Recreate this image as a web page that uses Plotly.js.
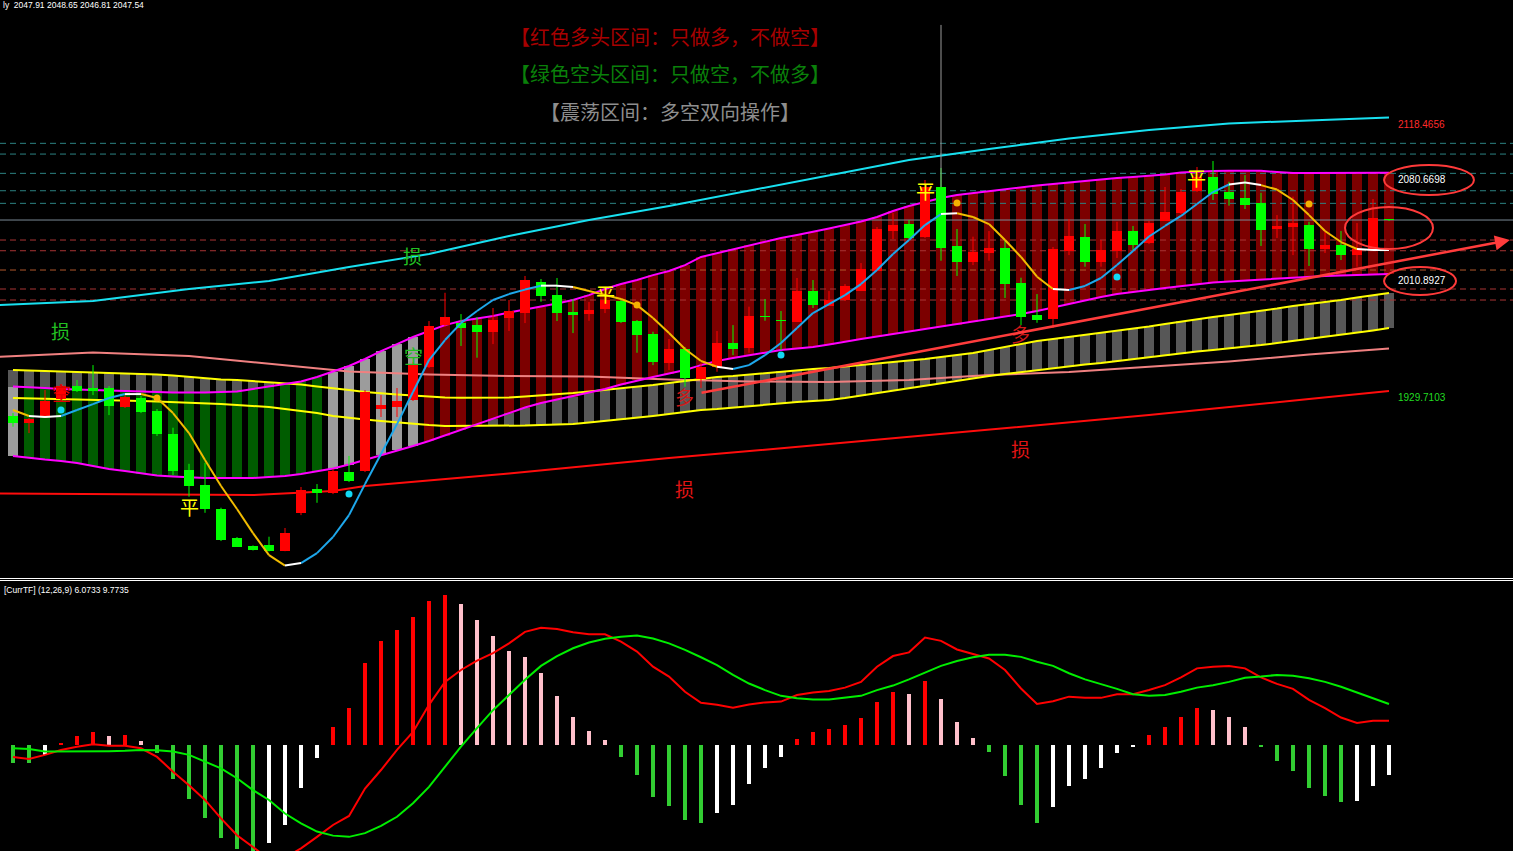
<!DOCTYPE html>
<html><head><meta charset="utf-8">
<script src="https://cdn.plot.ly/plotly-3.0.1.min.js"></script>
<style>html,body{margin:0;padding:0;background:#000;overflow:hidden}#chart{width:1513px;height:851px}</style>
</head><body><div id="chart"></div>
<script>
// ---------- price candles ----------
const OPEN=[1917.5,1912.4,1916.4,1929.0,1938.0,1936.8,1936.8,1923.5,1929.9,1920.7,
1904.8,1880.0,1869.6,1853.1,1833.3,1827.8,1828.2,1824.3,1850.3,1866.9,
1864.1,1878.8,1879.3,1921.9,1923.7,1928.3,1951.3,1980.0,1981.4,1980.0,
1975.4,1985.1,1988.5,2009.7,2000.7,1989.0,1987.8,1991.1,1996.6,1982.8,
1973.8,1954.0,1963.5,1942.8,1951.3,1967.8,1964.4,1986.1,1983.2,1982.3,
2003.5,1993.4,1997.3,2003.7,2017.5,2044.9,2049.7,2041.0,2075.5,2034.6,
2023.7,2029.9,2033.4,2009.0,1986.9,1984.2,2031.1,2040.8,2023.7,2031.1,
2044.9,2036.6,2052.0,2057.1,2072.7,2082.2,2072.0,2067.7,2064.2,2046.3,
2047.5,2049.0,2032.5,2035.2,2028.3,2031.8,2052.8];
const HIGH=[1919.3,1915.9,1935.2,1939.3,1942.1,1952.4,1938.0,1931.7,1931.1,1922.1,
1909.2,1884.3,1885.0,1854.0,1833.8,1828.0,1834.0,1840.0,1868.3,1870.3,
1880.7,1889.7,1935.2,1931.7,1936.6,1954.5,1982.8,2002.3,1987.6,1985.6,
1991.8,1997.3,2013.9,2011.8,2012.5,1998.0,1995.9,2000.1,1998.0,1983.5,
1975.4,1970.4,1964.9,1953.8,1975.9,1980.0,1992.7,1998.0,1989.7,2012.5,
2011.1,2003.5,2008.3,2022.8,2047.7,2057.3,2052.5,2080.1,2088.4,2046.3,
2041.0,2044.9,2038.7,2012.7,2001.4,2033.9,2053.2,2049.7,2038.7,2051.3,
2048.4,2051.8,2075.3,2073.9,2089.1,2093.2,2078.9,2083.5,2071.3,2055.9,
2068.6,2051.3,2045.6,2044.9,2050.4,2067.0,2053.2];
const LOW=[1909.9,1905.5,1915.9,1927.6,1933.8,1931.7,1917.9,1922.8,1919.3,1903.5,
1876.5,1861.6,1850.5,1831.0,1826.9,1824.5,1823.8,1824.0,1848.9,1857.4,
1863.4,1871.7,1878.6,1916.6,1916.6,1927.6,1950.4,1978.7,1965.6,1957.5,
1966.9,1975.9,1981.4,1996.1,1982.8,1974.5,1983.0,1988.3,1981.4,1960.9,
1952.4,1949.0,1937.5,1936.6,1947.8,1959.3,1960.9,1983.0,1962.8,1982.1,
1991.8,1993.2,1996.6,2003.5,2017.3,2039.4,2039.4,2040.1,2024.4,2013.9,
2021.4,2024.4,1998.7,1980.0,1981.6,1978.0,2028.3,2020.3,2020.3,2026.3,
2031.8,2035.9,2051.8,2056.6,2071.8,2066.3,2062.4,2060.1,2034.6,2040.1,
2028.3,2020.8,2029.7,2024.9,2020.3,2031.1,2051.8];
const CLOSE=[1912.6,1915.2,1927.8,1938.0,1934.5,1934.7,1924.2,1930.6,1920.0,1904.8,
1879.3,1869.0,1853.1,1831.7,1827.1,1824.8,1824.1,1836.5,1866.2,1864.3,
1879.3,1872.6,1933.8,1924.8,1927.6,1952.4,1979.4,1985.6,1978.0,1975.4,
1983.5,1989.9,2011.1,2000.1,1988.5,1986.9,1990.4,1997.3,1982.3,1973.1,
1954.7,1963.5,1943.5,1951.1,1967.8,1963.5,1986.5,1985.4,1982.5,2003.5,
1993.8,1997.3,2007.0,2018.7,2046.3,2049.0,2040.3,2075.5,2033.4,2023.7,
2030.6,2033.4,2008.3,1985.8,1983.5,2032.5,2041.5,2023.7,2031.8,2044.9,
2035.2,2050.4,2058.2,2072.0,2082.4,2070.4,2067.0,2062.8,2045.6,2048.4,
2050.6,2032.5,2035.2,2028.3,2032.5,2054.1,2052.2];

// ---------- moving average (tri-colour line) ----------
const MA=[1921.4,1917.3,1916.6,1917.3,1921.4,1925.5,1929.7,1932.4,1932.4,1929.7,
1919.3,1905.5,1886.9,1869.0,1853.1,1836.5,1821.3,1814.1,1815.8,1822.7,
1833.8,1848.9,1870.3,1891.0,1911.7,1933.8,1955.9,1969.7,1981.4,1989.7,
1997.3,2001.4,2004.5,2007.2,2007.2,2006.3,2003.5,2000.7,1998.0,1993.8,
1984.9,1974.5,1963.5,1955.2,1951.3,1949.7,1952.4,1959.3,1967.6,1978.0,
1988.3,1994.5,2000.7,2008.3,2018.0,2029.0,2038.7,2049.0,2056.6,2057.1,
2054.6,2049.7,2038.7,2027.0,2013.4,2004.9,2004.2,2007.0,2012.5,2021.4,
2031.1,2041.1,2048.4,2055.3,2063.5,2071.8,2077.0,2078.4,2076.6,2073.5,
2066.3,2055.9,2044.9,2037.3,2032.5,2031.8,2031.8];

// ---------- magenta channel (upper / lower) ----------
const MAG_UP=[1937.6,1937.3,1936.6,1935.9,1935.5,1935.2,1934.5,1934.2,1933.8,1933.8,
1933.5,1933.3,1933.5,1933.8,1934.2,1935.9,1937.6,1939.3,1941.1,1944.2,
1947.8,1951.8,1956.6,1962.1,1966.9,1971.8,1975.9,1980.0,1982.8,1984.5,
1986.3,1988.7,1990.7,1992.8,1994.9,1997.3,2000.7,2004.9,2008.3,2011.1,
2014.5,2017.3,2021.4,2027.0,2029.7,2032.5,2035.2,2037.7,2040.1,2042.1,
2044.2,2046.6,2049.0,2051.5,2054.6,2058.7,2062.2,2064.9,2067.7,2069.7,
2071.1,2072.5,2073.5,2074.9,2076.3,2077.3,2078.4,2079.4,2080.4,2081.5,
2082.2,2082.9,2083.9,2085.3,2086.0,2086.3,2086.5,2086.5,2086.5,2085.6,
2084.9,2084.9,2084.9,2084.9,2084.9,2085.1,2085.1];
const MAG_LO=[1889.7,1888.3,1887.2,1886.2,1884.8,1882.8,1880.7,1879.3,1877.6,1876.2,
1875.5,1874.8,1874.5,1874.5,1874.5,1874.5,1875.2,1875.9,1877.2,1879.0,
1881.0,1883.8,1886.9,1890.3,1893.5,1896.6,1900.0,1903.8,1907.6,1911.4,
1915.2,1919.3,1923.1,1926.2,1928.6,1930.7,1933.1,1935.9,1939.0,1941.8,
1944.2,1946.6,1949.0,1952.4,1955.2,1957.3,1959.3,1961.1,1962.8,1963.8,
1964.9,1966.6,1968.7,1970.4,1972.1,1973.8,1975.6,1977.3,1978.7,1980.4,
1982.1,1983.8,1985.6,1987.6,1989.7,1992.1,1994.5,1997.3,1999.4,2001.4,
2003.0,2004.2,2005.6,2007.0,2008.3,2009.4,2010.1,2010.8,2011.1,2011.8,
2012.5,2013.2,2013.9,2014.2,2014.5,2014.9,2015.2];
// zone of each bar: 1 bull (red), -1 bear (green), 0 range (grey)
const ZONE=[0,-1,-1,-1,-1,-1,-1,-1,-1,-1,
-1,-1,-1,-1,-1,-1,-1,-1,-1,-1,
0,0,0,0,0,0,1,1,1,1,
1,1,1,1,1,1,1,1,1,1,
1,1,1,1,1,1,1,1,1,1,
1,1,1,1,1,1,1,1,1,1,
1,1,1,1,1,1,1,1,1,1,
1,1,1,1,1,1,1,1,1,1,
1,1,1,1,1,1,1];

// ---------- yellow channel (upper / lower) ----------
const YEL_UP=[1949.0,1948.7,1948.3,1948.0,1947.6,1947.3,1946.9,1946.6,1946.2,1945.9,
1945.2,1944.2,1943.1,1942.4,1942.1,1941.4,1940.7,1940.0,1939.0,1937.6,
1936.6,1935.2,1933.8,1932.8,1932.1,1931.4,1930.7,1930.0,1929.9,1929.9,
1929.9,1930.0,1930.7,1931.4,1932.4,1933.1,1934.2,1935.2,1936.2,1937.3,
1938.6,1940.0,1941.4,1943.1,1944.2,1944.9,1945.9,1946.9,1948.0,1949.0,
1949.7,1950.4,1951.4,1952.4,1953.5,1954.5,1955.6,1956.6,1958.0,1959.3,
1960.7,1962.8,1964.9,1966.9,1969.0,1970.4,1971.8,1973.1,1974.5,1975.9,
1977.3,1979.0,1980.7,1982.5,1984.2,1985.6,1986.9,1988.3,1989.7,1991.4,
1993.2,1994.5,1995.9,1997.3,1999.0,2000.7,2002.1];
const YEL_LO=[1929.7,1929.5,1929.2,1929.0,1928.8,1928.5,1928.3,1928.0,1927.6,1927.3,
1926.9,1926.6,1926.2,1925.5,1924.8,1924.2,1923.5,1922.1,1920.7,1919.3,
1917.3,1915.9,1914.8,1913.8,1912.8,1911.7,1911.0,1910.4,1910.4,1910.4,
1910.4,1910.4,1910.7,1911.0,1911.4,1911.7,1912.8,1913.8,1914.8,1915.9,
1917.3,1918.6,1920.0,1921.4,1922.1,1923.1,1924.2,1925.2,1925.9,1926.9,
1927.6,1928.3,1929.7,1931.4,1933.1,1934.9,1936.6,1938.3,1940.0,1941.8,
1943.5,1944.9,1946.2,1947.6,1949.0,1950.4,1951.4,1952.8,1953.8,1955.2,
1956.6,1958.0,1959.0,1960.4,1961.8,1962.8,1963.8,1964.9,1966.2,1967.6,
1969.0,1970.4,1971.8,1973.1,1974.9,1976.3,1978.0];

// ---------- outer envelope lines (read at sample bars) ----------
const ENV_IDX=[-1,5,11,16,21,26,31,36,41,46,51,56,61,66,71,76,81,86];
const CYAN_VAL=[1993.8,1996.6,2004.9,2010.4,2020.1,2029.0,2041.5,2052.5,2062.2,2072.9,2083.5,2093.9,2101.5,2108.7,2114.6,2119.1,2121.2,2123.2];
const SALMON_VAL=[1958.0,1961.1,1958.7,1953.1,1948.0,1945.9,1944.9,1944.5,1942.4,1941.1,1940.7,1942.1,1945.5,1947.6,1951.1,1954.9,1959.7,1963.8];
const RED_IDX=[-1,7,15,20,22,31,41,51,61,71,81,86];
const RED_VAL=[1863.9,1863.1,1862.7,1865.5,1869.0,1877.6,1888.3,1897.9,1907.9,1917.9,1929.0,1934.5];

// ---------- signal dots ----------
const BUY_IDX=[3,21,48,69];
const BUY_VAL=[1921.4,1863.4,1959.3,2013.2];
const SELL_IDX=[9,39,59,81];
const SELL_VAL=[1929.7,1993.8,2064.2,2063.5];

// ---------- horizontal levels ----------
const LEVELS_UPPER=[2105.4,2098.0,2084.7,2072.7,2064.0];
const LEVELS_LOWER=[2038.7,2031.3,2004.9,1997.3];
const LEVEL_MID=2018.0;
const PRICE_LINE=2052.5;
const RIGHT_LABELS=[2118.4656,2080.6698,2010.8927,1929.7103];
const HEADER_VALUES=['2047.91','2048.65','2046.81','2047.54'];

// ---------- MACD ----------
const HIST=[-4.3,-4.5,-2.4,0.6,2.2,3.2,2.2,2.4,1.0,-2.0,
-8.3,-13.2,-17.7,-22.6,-25.3,-27.0,-23.9,-19.5,-10.4,-3.2,
4.3,9.1,19.9,25.4,28.0,31.2,35.1,36.6,34.4,30.5,
26.6,22.9,21.5,17.6,12.0,6.8,3.4,1.2,-2.9,-7.2,
-12.6,-14.8,-18.2,-19.0,-16.5,-14.6,-9.4,-5.5,-2.9,1.5,
3.2,3.9,4.9,6.7,10.5,12.9,12.4,15.6,11.2,5.6,
1.7,-1.7,-7.5,-14.6,-19.0,-15.0,-9.9,-8.2,-5.5,-1.9,
-0.4,2.4,4.4,6.8,9.0,8.5,6.8,4.4,-0.4,-3.8,
-6.3,-10.4,-12.4,-13.8,-13.6,-9.9,-7.2];
const MACD_LINE=[-2.9,-3.4,-2.4,-1.2,-0.4,0.2,-0.2,-0.2,-0.8,-2.9,
-6.5,-9.8,-13.4,-17.9,-22.0,-24.8,-27.8,-27.5,-25.2,-22.4,
-19.5,-17.3,-10.6,-6.1,-1.2,3.2,9.8,15.4,18.3,20.6,
22.4,24.8,27.6,28.6,28.3,27.5,27.0,27.0,25.2,22.8,
19.1,16.7,13.0,10.3,9.8,9.1,9.9,10.4,10.6,12.2,
12.8,13.2,14.0,15.4,19.1,21.7,22.6,26.2,25.4,23.3,
22.2,21.1,18.3,13.8,10.0,10.7,11.8,11.5,11.5,12.4,
12.4,13.4,14.6,16.5,18.7,19.1,19.3,18.7,16.5,14.9,
13.7,11.0,9.0,6.7,5.4,5.9,5.9];
const SIGNAL_LINE=[-0.8,-1.0,-1.6,-1.6,-1.6,-1.6,-1.5,-1.4,-1.2,-1.3,
-1.6,-2.4,-4.1,-5.7,-8.1,-11.0,-13.4,-16.7,-19.1,-21.1,
-22.1,-22.4,-21.5,-19.7,-17.5,-14.2,-10.2,-5.3,-0.4,4.1,
8.5,12.2,15.9,19.3,21.7,23.6,25.0,25.9,26.4,26.7,
26.0,24.8,23.2,21.4,19.5,17.1,15.0,13.4,12.0,11.4,
11.1,11.1,11.5,12.0,13.4,14.5,16.0,17.6,19.3,20.5,
21.4,22.0,22.0,21.5,20.3,19.3,17.5,16.0,14.9,13.7,
12.4,12.0,12.2,13.0,14.0,14.6,15.4,16.4,16.7,17.1,
16.9,16.3,15.4,14.2,12.8,11.4,10.0];

// ================= build =================
const N=CLOSE.length;
const IDX=Array.from({length:N},(_,i)=>i);
const XR=[-0.8125,93.75];
const YR=[1806.2,2204.3];
const MR=[-25.85,39.76];
const traces=[];

// layer 1 (subplot xy): channel bars, levels, envelope lines
traces.push({type:'bar',x:IDX,base:YEL_LO,y:YEL_UP.map((v,i)=>v-YEL_LO[i]),width:0.68,
  marker:{color:'#575757',line:{width:0}},xaxis:'x',yaxis:'y',hoverinfo:'skip'});
const zc={'1':'#7c0000','-1':'#005c00','0':'#9c9c9c'};
traces.push({type:'bar',x:IDX,base:MAG_LO,y:MAG_UP.map((v,i)=>v-MAG_LO[i]),width:0.68,
  marker:{color:ZONE.map(z=>zc[String(z)]),line:{width:0}},xaxis:'x',yaxis:'y',hoverinfo:'skip'});

function hline(v,color,dash){
  traces.push({type:'scatter',mode:'lines',x:[XR[0],XR[1]],y:[v,v],line:{color:color,width:1,dash:dash},
    xaxis:'x',yaxis:'y',hoverinfo:'skip'});
}
LEVELS_UPPER.forEach(v=>hline(v,'#2c8282','6px,4px'));
LEVELS_LOWER.forEach(v=>hline(v,'#a83434','6px,4px'));
hline(LEVEL_MID,'#b0582c','6px,4px');
hline(PRICE_LINE,'#7a8a96','solid');

function line(x,y,color,w){
  traces.push({type:'scatter',mode:'lines',x:x,y:y,line:{color:color,width:w},
    xaxis:'x',yaxis:'y',hoverinfo:'skip'});
}
line(ENV_IDX,CYAN_VAL,'#18e0f0',2);
line(ENV_IDX,SALMON_VAL,'#f08080',2);
line(RED_IDX,RED_VAL,'#ff0c0c',2);
line(IDX,YEL_UP,'#ffff00',2);
line(IDX,YEL_LO,'#ffff00',2);
line(IDX,MAG_UP,'#ff00ff',2);
line(IDX,MAG_LO,'#ff00ff',2);

// layer 2 (subplot xy3): candles, MA, dots
const up=CLOSE.map((c,i)=>c>=OPEN[i]);
const UPC='#ff0000', DNC='#00ff00';
function wick(flag,color){
  const x=[],y=[];
  IDX.forEach(i=>{ if(up[i]===flag){x.push(i,i,null);y.push(LOW[i],HIGH[i],null);} });
  traces.push({type:'scatter',mode:'lines',x:x,y:y,line:{color:color,width:1},xaxis:'x',yaxis:'y3',hoverinfo:'skip'});
}
traces.push({type:'bar',x:IDX,base:OPEN.map((o,i)=>Math.min(o,CLOSE[i])),
  y:OPEN.map((o,i)=>Math.max(Math.abs(CLOSE[i]-o),0.9)),width:0.68,
  marker:{color:up.map(u=>u?UPC:DNC),line:{width:0}},xaxis:'x',yaxis:'y3',hoverinfo:'skip'});
wick(true,UPC); wick(false,DNC);

const seg={rise:{x:[],y:[]},fall:{x:[],y:[]},flat:{x:[],y:[]}};
for(let i=0;i<N-1;i++){
  const d=MA[i+1]-MA[i];
  const k=Math.abs(d)<2?'flat':(d>0?'rise':'fall');
  seg[k].x.push(i,i+1,null); seg[k].y.push(MA[i],MA[i+1],null);
}
[['rise','#1ea8ec'],['fall','#f2bc00'],['flat','#ffffff']].forEach(([k,c])=>{
  traces.push({type:'scatter',mode:'lines',x:seg[k].x,y:seg[k].y,line:{color:c,width:2},xaxis:'x',yaxis:'y3',hoverinfo:'skip'});
});
traces.push({type:'scatter',mode:'markers',x:BUY_IDX,y:BUY_VAL,marker:{color:'#12d8f4',size:7},xaxis:'x',yaxis:'y3',hoverinfo:'skip'});
traces.push({type:'scatter',mode:'markers',x:SELL_IDX,y:SELL_VAL,marker:{color:'#f5b000',size:7},xaxis:'x',yaxis:'y3',hoverinfo:'skip'});

// MACD panel
const hc=HIST.map((v,i)=>{
  const prev=i>0?HIST[i-1]:v;
  if(v>=0) return v>=prev?'#ff0000':'#ffc0cb';
  return v<=prev?'#32cd32':'#ffffff';
});
traces.push({type:'bar',x:IDX,y:HIST,width:0.19,marker:{color:hc,line:{width:0}},xaxis:'x2',yaxis:'y2',hoverinfo:'skip'});
traces.push({type:'scatter',mode:'lines',x:IDX,y:MACD_LINE,line:{color:'#ff0000',width:2},xaxis:'x2',yaxis:'y2',hoverinfo:'skip'});
traces.push({type:'scatter',mode:'lines',x:IDX,y:SIGNAL_LINE,line:{color:'#00ee00',width:2},xaxis:'x2',yaxis:'y2',hoverinfo:'skip'});

// ---------- annotations ----------
const CJK='"Noto Sans CJK SC", "Noto Sans", sans-serif';
const SANS='"Liberation Sans", Arial, sans-serif';
const ann=[];
const tops=[
  ['【红色多头区间：只做多，不做空】','#a80000',36],
  ['【绿色空头区间：只做空，不做多】','#0a800a',74],
  ['【震荡区间：多空双向操作】','#8e8e8e',112]];
tops.forEach(([t,c,py])=>ann.push({text:t,xref:'paper',yref:'paper',x:670/1513,y:1-py/851,
  xanchor:'center',yanchor:'middle',showarrow:false,font:{family:CJK,size:20,color:c}}));
const marks=[
  ['损',2.94,1976.6,'#22c022'],['损',24.94,2027.7,'#22c022'],
  ['损',41.94,1867.6,'#e01414'],['损',62.94,1895.2,'#e01414'],
  ['空',3,1933.8,'#e00000'],['空',25,1959.3,'#22c022'],
  ['平',11,1854.5,'#ffff00'],['平',37,2002.1,'#ffff00'],['平',57,2073.2,'#ffff00'],['平',73.94,2081.5,'#ffff00'],
  ['多',41.94,1930.4,'#d01818'],['多',62.94,1974.5,'#d01818']];
marks.forEach(([t,x,y,c])=>ann.push({text:t,x:x,y:y,xref:'x',yref:'y',xanchor:'center',yanchor:'middle',
  showarrow:false,font:{family:CJK,size:19,color:c}}));
const rlc=['#ff2a2a','#ffffff','#ffffff','#22dd22'];
RIGHT_LABELS.forEach((v,i)=>ann.push({text:v.toFixed(4),xref:'paper',yref:'y',x:1396/1513,y:v,
  xanchor:'left',yanchor:'middle',showarrow:false,font:{family:SANS,size:10,color:rlc[i]}}));
ann.push({text:'ly  '+HEADER_VALUES.join(' '),
  xref:'paper',yref:'paper',x:0.0007,y:1-5/851,xanchor:'left',yanchor:'middle',showarrow:false,
  font:{family:SANS,size:8.5,color:'#ffffff'}});
ann.push({text:'[CurrTF] (12,26,9) 6.0733 9.7735',xref:'paper',yref:'paper',x:2/1513,y:1-590/851,
  xanchor:'left',yanchor:'middle',showarrow:false,font:{family:SANS,size:8.5,color:'#ffffff'}});
// trend arrow
const ARROW_FROM=[42.94,1933.1], ARROW_TO=[93.56,2038.7];
ann.push({text:'',x:ARROW_TO[0],y:ARROW_TO[1],ax:ARROW_FROM[0],ay:ARROW_FROM[1],xref:'x',yref:'y',axref:'x',ayref:'y',
  showarrow:true,arrowhead:2,arrowsize:1.2,arrowwidth:2.5,arrowcolor:'#ff3c3c'});

const shapes=[
  {type:'circle',xref:'x',yref:'y',x0:85.69,x1:91.31,y0:2069.75,y1:2090.45,line:{color:'#ff3a3a',width:2}},
  {type:'circle',xref:'x',yref:'y',x0:83.25,x1:88.75,y0:2032.5,y1:2061.5,line:{color:'#ff3a3a',width:2}},
  {type:'circle',xref:'x',yref:'y',x0:85.69,x1:90.19,y0:2000.8,y1:2020.1,line:{color:'#ff3a3a',width:2}},
  {type:'line',xref:'x',yref:'y',x0:58,x1:58,y0:2075.3,y1:2187.1,line:{color:'#9a9a9a',width:1}},
  {type:'line',xref:'paper',yref:'paper',x0:0,x1:1,y0:1-578.5/851,y1:1-578.5/851,line:{color:'#ffffff',width:1}},
  {type:'line',xref:'paper',yref:'paper',x0:0,x1:1,y0:1-580.5/851,y1:1-580.5/851,line:{color:'#ffffff',width:1}}
];

const ax0={visible:false,showgrid:false,zeroline:false,fixedrange:true};
const layout={
  width:1513,height:851,margin:{l:0,r:0,t:0,b:0,pad:0},
  paper_bgcolor:'#000',plot_bgcolor:'#000',showlegend:false,barmode:'overlay',bargap:0,
  xaxis:Object.assign({},ax0,{domain:[0,1],range:XR,anchor:'y'}),
  yaxis:Object.assign({},ax0,{domain:[1-577/851,1],range:YR,anchor:'x'}),
  yaxis3:Object.assign({},ax0,{overlaying:'y',range:YR,anchor:'x'}),
  xaxis2:Object.assign({},ax0,{domain:[0,1],range:XR,anchor:'y2'}),
  yaxis2:Object.assign({},ax0,{domain:[0,1-582/851],range:MR,anchor:'x2'}),
  annotations:ann,shapes:shapes
};
Plotly.newPlot('chart',traces,layout,{staticPlot:true,displayModeBar:false});
</script></body></html>
